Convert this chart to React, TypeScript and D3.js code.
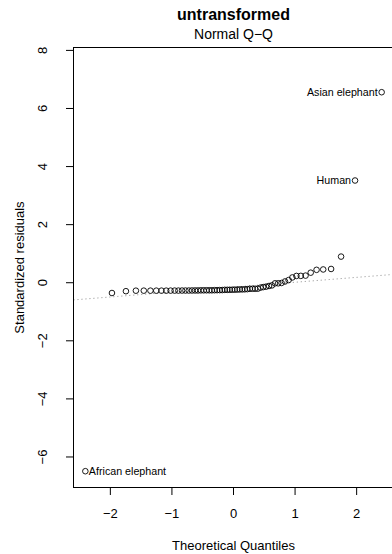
import React from "react";
import * as d3 from "d3";

const mainTitle = "untransformed";
const caption = "Normal Q−Q";
const xTitle = "Theoretical Quantiles";
const yTitle = "Standardized residuals";

// Expected normal quantiles for 62 observations
const theoreticalQuantiles = [
  -2.406, -1.974, -1.747, -1.585, -1.457, -1.349, -1.254, -1.170, -1.093, -1.022,
  -0.956, -0.895, -0.836, -0.780, -0.726, -0.674, -0.624, -0.577, -0.529, -0.483,
  -0.438, -0.394, -0.351, -0.308, -0.266, -0.224, -0.183, -0.142, -0.101, -0.061,
  -0.020, 0.020, 0.061, 0.101, 0.142, 0.183, 0.224, 0.266, 0.308, 0.351,
  0.394, 0.438, 0.483, 0.529, 0.577, 0.624, 0.674, 0.726, 0.780, 0.836,
  0.895, 0.956, 1.022, 1.093, 1.170, 1.254, 1.349, 1.457, 1.585, 1.747,
  1.974, 2.406,
];

// Sorted standardized residuals
const standardizedResiduals = [
  -6.49, -0.354, -0.291, -0.274, -0.273, -0.273, -0.273, -0.273, -0.273, -0.272,
  -0.271, -0.271, -0.269, -0.269, -0.269, -0.267, -0.266, -0.266, -0.262, -0.261,
  -0.26, -0.26, -0.26, -0.257, -0.256, -0.254, -0.252, -0.245, -0.245, -0.243,
  -0.241, -0.239, -0.235, -0.231, -0.229, -0.226, -0.221, -0.208, -0.207, -0.207,
  -0.205, -0.169, -0.15, -0.135, -0.112, -0.092, -0.021, -0.02, -0.008, 0.043,
  0.092, 0.182, 0.234, 0.236, 0.245, 0.346, 0.444, 0.457, 0.474, 0.9,
  3.52, 6.56,
];

// Names of the flagged observations, by position in the sorted order
const labelledIndex = [0, 60, 61];
const labelledNames = ["African elephant", "Human", "Asian elephant"];

const xTicks = [-2, -1, 0, 1, 2];
const yTicks = [-6, -4, -2, 0, 2, 4, 6, 8];

const FONT = "'Liberation Sans', Arial, Helvetica, sans-serif";

const fmt = (v: number) => String(v).replace("-", "\u2212");

export default function App() {
  const W = 392;
  const H = 554;
  const left = 73.5;
  const right = 393.5;
  const top = 47.5;
  const bottom = 487.5;

  const xExt = d3.extent(theoreticalQuantiles) as [number, number];
  const xPad = (xExt[1] - xExt[0]) * 0.04;
  const x = d3
    .scaleLinear()
    .domain([xExt[0] - xPad, xExt[1] + xPad])
    .range([left, right]);

  const yExt = d3.extent(standardizedResiduals) as [number, number];
  const yHi = yExt[1] + 0.075 * (yExt[1] - yExt[0]);
  const yPad = (yHi - yExt[0]) * 0.04;
  const y = d3
    .scaleLinear()
    .domain([yExt[0] - yPad, yHi + yPad])
    .range([bottom, top]);

  // Reference line through the first and third quartiles
  const sorted = [...standardizedResiduals].sort(d3.ascending);
  const q1 = d3.quantileSorted(sorted, 0.25) as number;
  const q3 = d3.quantileSorted(sorted, 0.75) as number;
  const z75 = 0.6744897502;
  const slope = (q3 - q1) / (2 * z75);
  const intercept = q1 + slope * z75;
  const [dx0, dx1] = x.domain();
  const refLine = d3.line<number>()
    .x((d) => x(d))
    .y((d) => y(intercept + slope * d))([dx0, dx1]);

  const midX = (left + right) / 2;
  const midY = (top + bottom) / 2;
  const xRange = d3.extent(theoreticalQuantiles) as [number, number];
  const xMid = (xRange[0] + xRange[1]) / 2;
  const labelSize = 10.7;

  return (
    <svg
      width={W}
      height={H}
      style={{ position: "absolute", left: 0, top: 0, display: "block", background: "#fff" }}
      fontFamily={FONT}
    >
      <defs>
        <clipPath id="plot-area">
          <rect x={left} y={top} width={right - left} height={bottom - top} />
        </clipPath>
      </defs>

      <text x={midX} y={19.5} textAnchor="middle" fontSize={16} fontWeight="bold" fill="#000">
        {mainTitle}
      </text>
      <text x={midX} y={38.5} textAnchor="middle" fontSize={14} fill="#000">
        {caption}
      </text>

      <path
        d={refLine ?? ""}
        clipPath="url(#plot-area)"
        fill="none"
        stroke="#8c8c8c"
        strokeWidth={1}
        strokeDasharray="1 3"
      />

      <rect
        x={left}
        y={top}
        width={right - left}
        height={bottom - top}
        fill="none"
        stroke="#000"
        strokeWidth={1}
      />

      {/* x axis */}
      {xTicks.map((t) => (
        <g key={`xt${t}`}>
          <line x1={x(t)} x2={x(t)} y1={bottom} y2={bottom + 7.5} stroke="#000" />
          <text x={x(t)} y={518.3} textAnchor="middle" fontSize={13} fill="#000">
            {fmt(t)}
          </text>
        </g>
      ))}
      <line x1={x(xTicks[0])} x2={x(xTicks[xTicks.length - 1])} y1={bottom} y2={bottom} stroke="#000" />
      <text x={midX} y={550} textAnchor="middle" fontSize={13} fill="#000">
        {xTitle}
      </text>

      {/* y axis */}
      {yTicks.map((t) => (
        <g key={`yt${t}`}>
          <line x1={left - 7.5} x2={left} y1={y(t)} y2={y(t)} stroke="#000" />
          <text
            transform={`translate(46.7,${y(t)}) rotate(-90)`}
            textAnchor="middle"
            fontSize={13}
            fill="#000"
          >
            {fmt(t)}
          </text>
        </g>
      ))}
      <line x1={left} x2={left} y1={y(yTicks[0])} y2={y(yTicks[yTicks.length - 1])} stroke="#000" />
      <text
        transform={`translate(24,${midY}) rotate(-90)`}
        textAnchor="middle"
        fontSize={13}
        fill="#000"
      >
        {yTitle}
      </text>

      {/* points */}
      <g clipPath="url(#plot-area)">
        {standardizedResiduals.map((v, i) => (
          <circle
            key={i}
            cx={x(theoreticalQuantiles[i])}
            cy={y(v)}
            r={2.8}
            fill="none"
            stroke="#000"
            strokeWidth={0.9}
          />
        ))}
      </g>

      {/* labels for the flagged observations */}
      {labelledIndex.map((idx, k) => {
        const qx = theoreticalQuantiles[idx];
        const onLeft = qx > xMid;
        const px = x(qx);
        const py = y(standardizedResiduals[idx]);
        return (
          <text
            key={labelledNames[k]}
            x={onLeft ? px - 4 : px + 3.5}
            y={py + labelSize * 0.36}
            textAnchor={onLeft ? "end" : "start"}
            fontSize={labelSize}
            fill="#000"
          >
            {labelledNames[k]}
          </text>
        );
      })}
    </svg>
  );
}
